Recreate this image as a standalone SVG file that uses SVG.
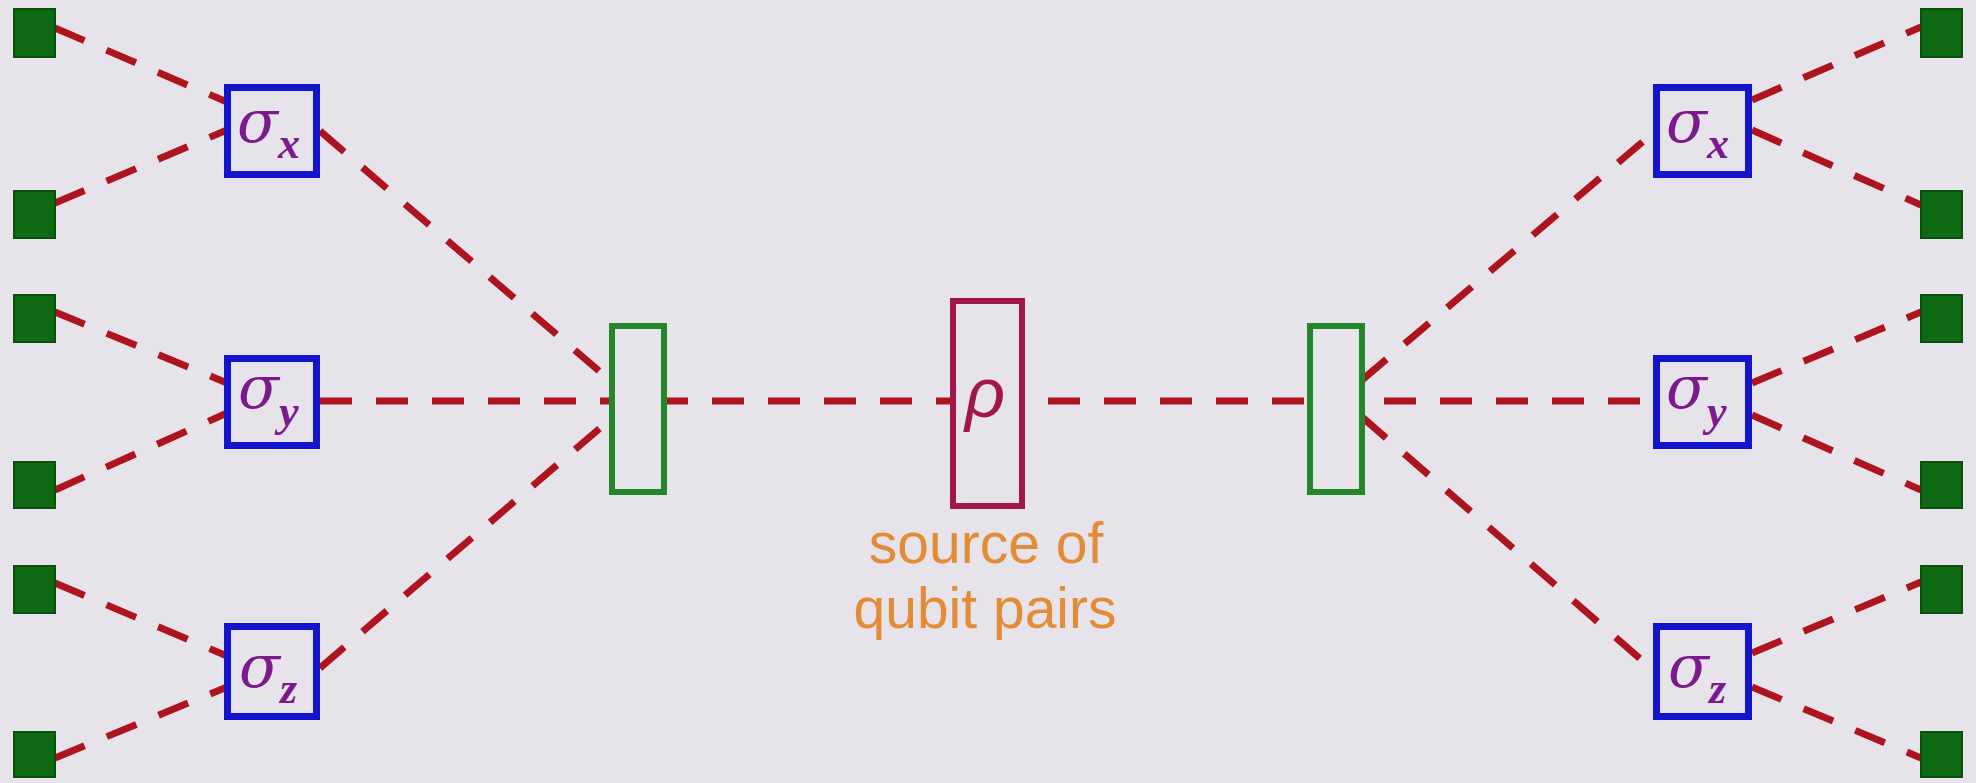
<svg xmlns="http://www.w3.org/2000/svg" width="1976" height="783" viewBox="0 0 1976 783">
  <style>
    .bg { fill: #e7e3ea; }
    .beam { stroke: #ad141d; stroke-width: 7; stroke-dasharray: 32 24; fill: none; }
    .det { fill: #0f6a14; stroke: #0b4f0f; stroke-width: 2; }
    .meas { fill: #e7e3ea; stroke: #1414cc; stroke-width: 7; }
    .split { fill: #e7e3ea; stroke: #23862a; stroke-width: 6; }
    .src { fill: #e7e3ea; stroke: #a1174b; stroke-width: 6; }
    .sig { font-style: italic; fill: #7b1a8c; }
    .sig .s { font-family: "DejaVu Serif", "Liberation Serif", serif; font-size: 60px; }
    .sig .sub { font-family: "Liberation Serif", "DejaVu Serif", serif; font-size: 44px; font-weight: bold; }
    .rho { font-family: "Liberation Sans", "DejaVu Sans", sans-serif; font-style: italic; font-size: 70px; fill: #a1174b; text-anchor: middle; }
    .label { font-family: "Liberation Sans", Arial, sans-serif; font-size: 57px; fill: #e38c38; text-anchor: middle; }
  </style>

  <rect class="bg" x="0" y="0" width="1976" height="783"/>

  <!-- dashed beam paths -->
  <g id="connectors">
    <!-- left detectors to left analysers -->
    <line class="beam" x1="55" y1="28" x2="227" y2="102"/>
    <line class="beam" x1="55" y1="203" x2="227" y2="130"/>
    <line class="beam" x1="55" y1="312" x2="227" y2="383"/>
    <line class="beam" x1="55" y1="490" x2="227" y2="413"/>
    <line class="beam" x1="55" y1="583" x2="227" y2="656"/>
    <line class="beam" x1="55" y1="758" x2="227" y2="687"/>
    <!-- left analysers to left switch -->
    <line class="beam" x1="320" y1="131" x2="613" y2="383"/>
    <line class="beam" x1="320" y1="668" x2="613" y2="417"/>
    <!-- central horizontal beam -->
    <line class="beam" x1="320" y1="401" x2="1653" y2="401"/>
    <!-- right switch to right analysers -->
    <line class="beam" x1="1362" y1="380" x2="1653" y2="133"/>
    <line class="beam" x1="1362" y1="417" x2="1653" y2="670"/>
    <!-- right analysers to right detectors -->
    <line class="beam" x1="1752" y1="100" x2="1921" y2="27"/>
    <line class="beam" x1="1752" y1="130" x2="1921" y2="205"/>
    <line class="beam" x1="1752" y1="383" x2="1921" y2="312"/>
    <line class="beam" x1="1752" y1="415" x2="1921" y2="490"/>
    <line class="beam" x1="1752" y1="653" x2="1921" y2="582"/>
    <line class="beam" x1="1752" y1="687" x2="1921" y2="758"/>
  </g>

  <!-- detectors, left column -->
  <g id="det-l1"><rect class="det" x="14" y="9" width="41" height="48"/></g>
  <g id="det-l2"><rect class="det" x="14" y="191" width="41" height="47"/></g>
  <g id="det-l3"><rect class="det" x="14" y="295" width="41" height="47"/></g>
  <g id="det-l4"><rect class="det" x="14" y="462" width="41" height="46"/></g>
  <g id="det-l5"><rect class="det" x="14" y="566" width="41" height="47"/></g>
  <g id="det-l6"><rect class="det" x="14" y="732" width="41" height="45"/></g>

  <!-- detectors, right column -->
  <g id="det-r1"><rect class="det" x="1921" y="9" width="41" height="48"/></g>
  <g id="det-r2"><rect class="det" x="1921" y="191" width="41" height="47"/></g>
  <g id="det-r3"><rect class="det" x="1921" y="295" width="41" height="47"/></g>
  <g id="det-r4"><rect class="det" x="1921" y="462" width="41" height="46"/></g>
  <g id="det-r5"><rect class="det" x="1921" y="566" width="41" height="47"/></g>
  <g id="det-r6"><rect class="det" x="1921" y="732" width="41" height="45"/></g>

  <!-- Pauli analysers, left -->
  <g id="sigma-x-left">
    <rect class="meas" x="227.5" y="87.5" width="89" height="87"/>
    <text class="sig" x="237" y="142"><tspan class="s">σ</tspan><tspan class="sub" dy="16">x</tspan></text>
  </g>
  <g id="sigma-y-left">
    <rect class="meas" x="227.5" y="358.5" width="89" height="87"/>
    <text class="sig" x="238" y="408"><tspan class="s">σ</tspan><tspan class="sub" dy="18">y</tspan></text>
  </g>
  <g id="sigma-z-left">
    <rect class="meas" x="227.5" y="626.5" width="89" height="90"/>
    <text class="sig" x="239" y="687"><tspan class="s">σ</tspan><tspan class="sub" dy="16">z</tspan></text>
  </g>

  <!-- Pauli analysers, right -->
  <g id="sigma-x-right">
    <rect class="meas" x="1656.5" y="87.5" width="92" height="87"/>
    <text class="sig" x="1666" y="142"><tspan class="s">σ</tspan><tspan class="sub" dy="16">x</tspan></text>
  </g>
  <g id="sigma-y-right">
    <rect class="meas" x="1656.5" y="358.5" width="92" height="87"/>
    <text class="sig" x="1666" y="408"><tspan class="s">σ</tspan><tspan class="sub" dy="18">y</tspan></text>
  </g>
  <g id="sigma-z-right">
    <rect class="meas" x="1656.5" y="626.5" width="92" height="90"/>
    <text class="sig" x="1668" y="687"><tspan class="s">σ</tspan><tspan class="sub" dy="16">z</tspan></text>
  </g>

  <!-- basis switches -->
  <g id="switch-left"><rect class="split" x="612" y="326" width="52" height="166"/></g>
  <g id="switch-right"><rect class="split" x="1310" y="326" width="52" height="166"/></g>

  <!-- entangled pair source -->
  <g id="source">
    <rect class="src" x="953" y="301" width="69" height="205"/>
    <text class="rho" x="985" y="417">ρ</text>
    <text class="label" x="986" y="563">source of</text>
    <text class="label" x="985" y="628">qubit pairs</text>
  </g>
</svg>
